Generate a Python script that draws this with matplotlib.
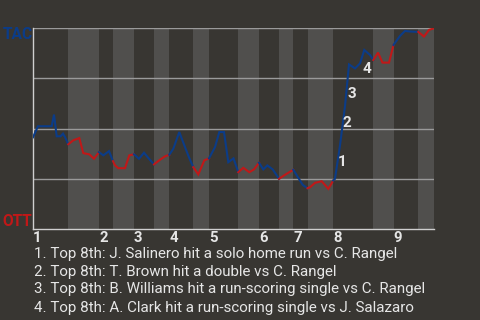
import matplotlib
matplotlib.use("Agg")
import matplotlib.pyplot as plt

# ---- data ----
# event position along the game (x) and TAC win probability (y), per half inning
half_innings = [
    # (x values, y values), top halves = TAC batting, bottom halves = OTT batting
    ([0, 5, 10, 14, 18.7, 21, 23.7, 27.5, 30, 32, 35.3],
     [0.457, 0.512, 0.512, 0.512, 0.512, 0.570, 0.462, 0.462, 0.475, 0.458, 0.422]),
    ([35.3, 40.3, 46.3, 50.3, 56.3, 61, 66],
     [0.422, 0.442, 0.453, 0.378, 0.372, 0.350, 0.383]),
    ([66, 70.3, 76, 80],
     [0.383, 0.367, 0.388, 0.338]),
    ([80, 82, 85.3, 92, 96.3, 101],
     [0.338, 0.317, 0.303, 0.303, 0.367, 0.372]),
    ([101, 106, 111, 116, 121],
     [0.372, 0.350, 0.380, 0.350, 0.322]),
    ([121, 127, 132, 136.3],
     [0.322, 0.345, 0.362, 0.370]),
    ([136.3, 140.3, 146.3, 152, 156, 160.3],
     [0.370, 0.400, 0.483, 0.408, 0.357, 0.308]),
    ([160.3, 165.3, 171.3, 176],
     [0.308, 0.272, 0.342, 0.352]),
    ([176, 182, 186.3, 191, 195.3, 200.5, 205.3],
     [0.352, 0.408, 0.483, 0.483, 0.333, 0.352, 0.283]),
    ([205.3, 210.3, 216.3, 221, 226],
     [0.283, 0.305, 0.283, 0.297, 0.330]),
    ([226, 230.3, 234.3, 239.7, 246],
     [0.330, 0.297, 0.317, 0.297, 0.250]),
    ([246, 252, 260.3],
     [0.250, 0.270, 0.295]),
    ([260.3, 265.3, 269.7, 274.5],
     [0.295, 0.255, 0.220, 0.203]),
    ([274.5, 277, 282, 288.7, 295.3, 300.3],
     [0.203, 0.208, 0.230, 0.238, 0.200, 0.242]),
    ([300.3, 302, 307, 312, 316, 322, 327, 331.3, 337, 340.3],
     [0.242, 0.250, 0.417, 0.612, 0.820, 0.800, 0.825, 0.892, 0.867, 0.842]),
    ([340.3, 345, 349.5, 356, 360.5],
     [0.842, 0.879, 0.829, 0.829, 0.917]),
    ([360.5, 367, 372, 377, 385.3],
     [0.917, 0.962, 0.987, 0.984, 0.982]),
    ([385.3, 391, 396, 401],
     [0.982, 0.959, 0.992, 1.0]),
]
inning_labels = ["1", "2", "3", "4", "5", "6", "7", "8", "9"]
event_x = [307, 312, 316, 331.3]
event_y = [0.417, 0.612, 0.820, 0.892]
event_labels = ["1", "2", "3", "4"]
notes = [
    "1. Top 8th: J. Salinero hit a solo home run vs C. Rangel",
    "2. Top 8th: T. Brown hit a double vs C. Rangel",
    "3. Top 8th: B. Williams hit a run-scoring single vs C. Rangel",
    "4. Top 8th: A. Clark hit a run-scoring single vs J. Salazaro",
]
away_team = "TAC"
home_team = "OTT"

# ---- style ----
BG = "#383632"
SHADE = "#504f4d"
BLUE = "#0b3c88"
RED = "#c01818"
GRID = "#9a9a9a"
AXIS = "#cfcfcf"
TXT = "#e6e6e6"
plt.rcParams['font.family'] = ['Roboto', 'DejaVu Sans']

W, H = 480, 320
fig = plt.figure(figsize=(4.8, 3.2), dpi=100, facecolor=BG)
ax = fig.add_axes([33 / W, 1 - 229 / H, (434 - 33) / W, (229 - 28.3) / H])
ax.set_facecolor(BG)

xmin = half_innings[0][0][0]
xmax = half_innings[-1][0][-1]
ax.set_xlim(xmin, xmax)
ax.set_ylim(0, 1)

# shaded bottom halves
for i, (xs, ys) in enumerate(half_innings):
    if i % 2 == 1:
        ax.axvspan(xs[0], xs[-1], color=SHADE, lw=0, zorder=0)

for yv in [0.25, 0.5, 0.75, 1.0]:
    ax.axhline(yv, color=GRID, lw=1.0, zorder=1)

for i, (xs, ys) in enumerate(half_innings):
    ax.plot(xs, ys, color=BLUE if i % 2 == 0 else RED, lw=1.5,
            solid_joinstyle='miter', zorder=3)

offsets = [(2, -21), (2, -21), (3, -34), (3, -23)]
for x, y, lab, off in zip(event_x, event_y, event_labels, offsets):
    ax.annotate(lab, (x, y), xytext=off, textcoords='offset pixels',
                ha='center', va='baseline', color=TXT, fontsize=11,
                fontweight='bold', zorder=4)

for s in ['top', 'right']:
    ax.spines[s].set_visible(False)
for s in ['left', 'bottom']:
    ax.spines[s].set_color(AXIS)
    ax.spines[s].set_linewidth(1.0)
ax.set_xticks([])
ax.set_yticks([])

# inning numbers at start of each top half (baseline at ~242 px)
label_y = -(242.3 - 229) / (229 - 28.3)
for k, lab in enumerate(inning_labels):
    xs = half_innings[2 * k][0]
    ax.text(xs[0], label_y, lab, transform=ax.get_xaxis_transform(),
            ha='left', va='baseline', color=TXT, fontsize=10.7,
            fontweight='bold', clip_on=False)

fig.text(2.7 / W, 1 - 39.3 / H, away_team, color=BLUE, fontsize=11.2,
         fontweight='bold', ha='left', va='baseline', zorder=10)
fig.text(2.7 / W, 1 - 225.7 / H, home_team, color=RED, fontsize=11.2,
         fontweight='bold', ha='left', va='baseline', zorder=10)

baselines = [257.7, 275.7, 293.5, 311.7]
for note, b in zip(notes, baselines):
    fig.text(34 / W, 1 - b / H, note, color=TXT, fontsize=10.9,
             ha='left', va='baseline')

fig.savefig("out.png", dpi=100, facecolor=BG)
